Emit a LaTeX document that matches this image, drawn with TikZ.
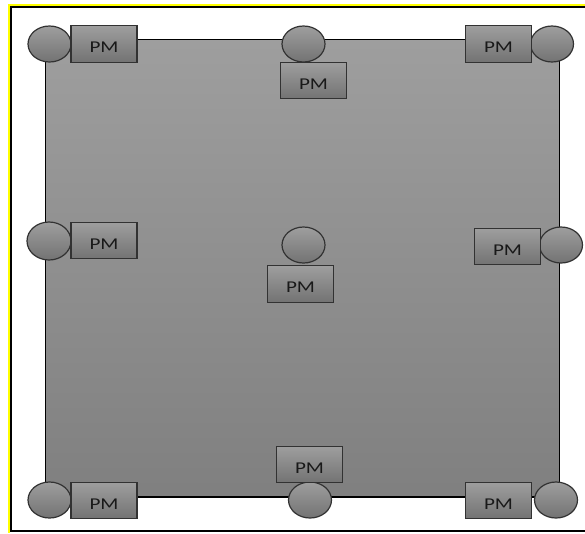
\documentclass[tikz,border=0pt]{standalone}
\usepackage{fontspec}
\usepackage{graphicx}
\newfontfamily\pmfont{Carlito}
\usetikzlibrary{shapes.geometric}
\definecolor{edge}{RGB}{50,50,50}
\definecolor{frameyellow}{RGB}{255,255,0}
\begin{document}
\begin{tikzpicture}[x=1pt,y=-1pt,
  pin/.style={ellipse,draw=edge,line width=1.2pt,inner sep=0pt,
    minimum width=43pt,minimum height=36pt,top color=black!38,bottom color=black!55},
  pmbox/.style={rectangle,draw=edge,line width=1.2pt,inner sep=0pt,
    minimum width=66pt,minimum height=36.5pt,top color=black!38,bottom color=black!55},
  pmtext/.style={inner sep=0pt,font=\pmfont\fontsize{16.5}{18}\selectfont,text=black!90}]
\useasboundingbox (0,0) rectangle (585,533);
\fill[white] (0,0) rectangle (585,533);
% outer frame
\draw[frameyellow,line width=2pt] (9,533) -- (9,5) -- (585,5);
\draw[black,line width=2pt] (585,7) -- (10.8,7) -- (10.8,531) -- (585,531);
% plate
\draw[black,line width=1.2pt,top color=black!38,bottom color=black!50]
  (45.5,39.5) rectangle (559.5,497);
% pins
\node[pin] (e1) at (49.5,44) {};
\node[pin] (e2) at (303.5,44) {};
\node[pin] (e3) at (552,44) {};
\node[pin,minimum width=44pt,minimum height=38pt] (e4) at (49,241) {};
\node[pin] (e5) at (303.5,245) {};
\node[pin] (e6) at (561,245) {};
\node[pin] (e7) at (49.5,500) {};
\node[pin] (e8) at (310,500) {};
\node[pin] (e9) at (556,500) {};
% PM boxes
\foreach \n/\x/\y in {b1/104/44, b2/313.5/80.5, b3/498.5/44, b4/104/240.5,
  b5/300.5/284, b6/507.5/246.5, b7/104/500.5, b8/309.5/464.5, b9/498.5/500.5}{
  \node[pmbox] (\n) at (\x,\y) {};
  \node[pmtext] at ([yshift=-3.5pt]\n.center) {\scalebox{1.28}[1]{PM}};
}
\end{tikzpicture}
\end{document}
